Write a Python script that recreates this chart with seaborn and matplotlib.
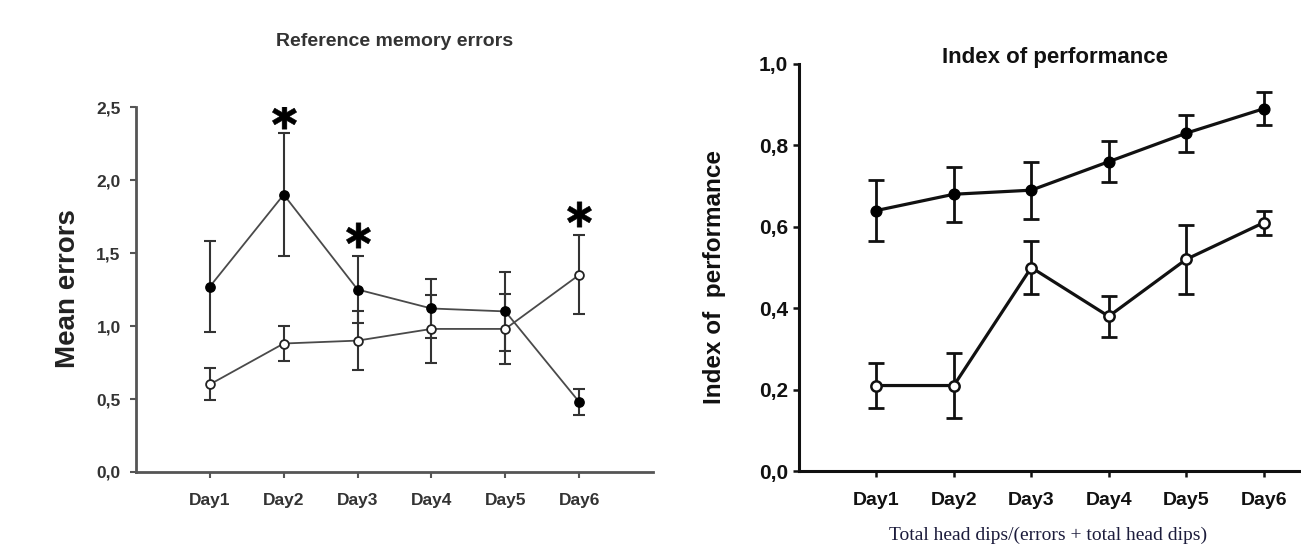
import numpy as np
import pandas as pd
import matplotlib
matplotlib.use("Agg")
import matplotlib.pyplot as plt
from matplotlib.ticker import FuncFormatter
import seaborn as sns

# ---------------- data ----------------
days = ["Day1", "Day2", "Day3", "Day4", "Day5", "Day6"]

# Reference memory errors (left)
err_filled = [1.27, 1.90, 1.25, 1.12, 1.10, 0.48]
err_filled_sem = [0.31, 0.42, 0.23, 0.20, 0.27, 0.09]
err_open = [0.60, 0.88, 0.90, 0.98, 0.98, 1.35]
err_open_sem = [0.11, 0.12, 0.20, 0.23, 0.24, 0.27]
sig_days = ["Day2", "Day3", "Day6"]
sig_y = [2.44, 1.62, 1.77]

# Index of performance (right)
idx_filled = [0.64, 0.68, 0.69, 0.76, 0.83, 0.89]
idx_filled_sem = [0.075, 0.067, 0.07, 0.05, 0.045, 0.04]
idx_open = [0.21, 0.21, 0.50, 0.38, 0.52, 0.61]
idx_open_sem = [0.055, 0.08, 0.064, 0.05, 0.085, 0.03]

left_yticks = [0.0, 0.5, 1.0, 1.5, 2.0, 2.5]
right_yticks = [0.0, 0.2, 0.4, 0.6, 0.8, 1.0]

# ---------------- style ----------------
sns.set_theme(style="ticks")
plt.rcParams["font.family"] = ["Liberation Sans", "DejaVu Sans"]
plt.rcParams["font.weight"] = "bold"

W, H = 1301, 546
fig = plt.figure(figsize=(W / 100, H / 100), dpi=100)
fig.patch.set_facecolor("white")


def px_axes(x0, x1, ytop, ybot):
    return fig.add_axes([x0 / W, 1 - ybot / H, (x1 - x0) / W, (ybot - ytop) / H])


comma = FuncFormatter(lambda v, p: f"{v:.1f}".replace(".", ","))
pos = {d: i + 1 for i, d in enumerate(days)}

# ---------------- left panel ----------------
axL = px_axes(136, 653, 107, 472)
gray = "#4a4a4a"
dfL = pd.DataFrame({
    "x": [pos[d] for d in days] * 2,
    "y": err_filled + err_open,
    "group": ["filled"] * 6 + ["open"] * 6,
})
sns.lineplot(data=dfL, x="x", y="y", units="group", estimator=None,
             color=gray, lw=1.3, ax=axL, zorder=2)
xs = [pos[d] for d in days]
axL.errorbar(xs, err_filled, yerr=err_filled_sem, fmt="none", ecolor="#333333",
             elinewidth=1.5, capsize=4.5, capthick=1.5, zorder=3)
axL.errorbar(xs, err_open, yerr=err_open_sem, fmt="none", ecolor="#333333",
             elinewidth=1.5, capsize=4.5, capthick=1.5, zorder=3)
sns.scatterplot(x=xs, y=err_filled, color="black", s=45, edgecolor="black",
                linewidth=1, ax=axL, zorder=4)
sns.scatterplot(x=xs, y=err_open, color="white", s=40, edgecolor="#222222",
                linewidth=1.3, ax=axL, zorder=4)
axL.scatter([pos[d] for d in sig_days], sig_y, marker=r"$\ast$", s=330,
            color="black", linewidths=0.4, zorder=5)

axL.set_xlim(0, 7)
axL.set_ylim(0, 2.5)
axL.set_xticks(xs)
axL.set_xticklabels(days)
axL.set_yticks(left_yticks)
axL.yaxis.set_major_formatter(comma)
for s in ["top", "right"]:
    axL.spines[s].set_visible(False)
for s in ["left", "bottom"]:
    axL.spines[s].set_color("#555555")
    axL.spines[s].set_linewidth(2)
axL.tick_params(axis="both", direction="out", length=4, width=1.5, color="#555555",
                labelcolor="#333333")
axL.tick_params(axis="y", labelsize=12.5, pad=7)
axL.tick_params(axis="x", labelsize=12.5, pad=11)
for t in axL.get_xticklabels() + axL.get_yticklabels():
    t.set_fontweight("bold")
axL.set_xlabel("")
axL.set_ylabel("Mean errors", fontsize=20, fontweight="bold", color="#222222",
               va="center")
axL.yaxis.set_label_coords((68 - 136) / 517, (472 - 289) / 365)
axL.set_title("Reference memory errors", fontsize=14, fontweight="bold",
              color="#333333", pad=0, y=(472 - 41) / 365, va="center")
axL.set_facecolor("white")

# ---------------- right panel ----------------
axR = px_axes(799, 1341, 64, 471)
dfR = pd.DataFrame({
    "x": [pos[d] for d in days] * 2,
    "y": idx_filled + idx_open,
    "group": ["filled"] * 6 + ["open"] * 6,
})
sns.lineplot(data=dfR, x="x", y="y", units="group", estimator=None,
             color="#111111", lw=2.3, ax=axR, zorder=2)
axR.errorbar(xs, idx_filled, yerr=idx_filled_sem, fmt="none", ecolor="#111111",
             elinewidth=2, capsize=5.5, capthick=2, zorder=3)
axR.errorbar(xs, idx_open, yerr=idx_open_sem, fmt="none", ecolor="#111111",
             elinewidth=2, capsize=5.5, capthick=2, zorder=3)
sns.scatterplot(x=xs, y=idx_filled, color="black", s=60, edgecolor="black",
                linewidth=1, ax=axR, zorder=4)
sns.scatterplot(x=xs, y=idx_open, color="white", s=55, edgecolor="#111111",
                linewidth=1.8, ax=axR, zorder=4)

axR.set_xlim(0, 7)
axR.set_ylim(0, 1.0)
axR.set_xticks(xs)
axR.set_xticklabels(days)
axR.set_yticks(right_yticks)
axR.yaxis.set_major_formatter(comma)
for s in ["top", "right"]:
    axR.spines[s].set_visible(False)
for s in ["left", "bottom"]:
    axR.spines[s].set_color("#111111")
    axR.spines[s].set_linewidth(2.2)
axR.tick_params(axis="both", direction="out", length=4, width=1.8, color="#111111",
                labelcolor="#111111")
axR.tick_params(axis="y", labelsize=15, pad=4)
axR.tick_params(axis="x", labelsize=14, pad=11)
for t in axR.get_xticklabels() + axR.get_yticklabels():
    t.set_fontweight("bold")
axR.set_xlabel("")
axR.set_ylabel("Index of  performance", fontsize=17.5, fontweight="bold",
               color="#111111", va="center")
axR.yaxis.set_label_coords((715 - 799) / 542, (471 - 277) / 407)
fig.text(1055 / W, 1 - 58 / H, "Index of performance", fontsize=16,
         fontweight="bold", color="#111111", ha="center", va="center")
axR.set_facecolor("white")

fig.text(1048 / W, 1 - 544 / H, "Total head dips/(errors + total head dips)",
         fontsize=14, family=["Liberation Serif", "DejaVu Serif"],
         fontweight="normal", color="#1c1c3c", ha="center", va="bottom")

fig.savefig("out.png", dpi=100, facecolor="white")
